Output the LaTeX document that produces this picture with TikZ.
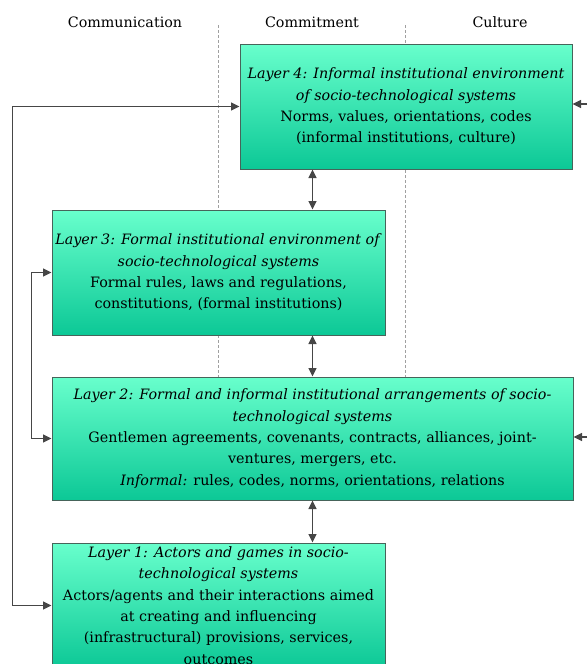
\documentclass[tikz,border=0pt]{standalone}
\usepackage{fontspec}
\setmainfont{DejaVu Serif}
\usetikzlibrary{arrows.meta,backgrounds}
\definecolor{boxtop}{RGB}{104,255,204}
\definecolor{boxbot}{RGB}{12,200,150}
\definecolor{boxline}{RGB}{70,100,90}
\definecolor{arrcol}{RGB}{70,70,70}
\definecolor{dashcol}{RGB}{160,160,160}
\tikzset{
  layerbox/.style={draw=boxline, line width=1pt, top color=boxtop, bottom color=boxbot,
    align=center, inner sep=1pt, font=\fontsize{14.3}{21.3}\selectfont, text=black},
  header/.style={font=\fontsize{14.3}{18}\selectfont, text=black},
  link/.style={draw=arrcol, line width=1.5pt, {Triangle[length=8.5pt,width=8pt]}-{Triangle[length=8.5pt,width=8pt]}},
  onelink/.style={draw=arrcol, line width=1.5pt, -{Triangle[length=8.5pt,width=8pt]}},
  divider/.style={draw=dashcol, line width=0.6pt, dash pattern=on 3pt off 2pt}
}
\begin{document}
\begin{tikzpicture}[x=1pt,y=-1pt]
\useasboundingbox (0,0) rectangle (587,664);
\node[header] (hcom) at (125,22) {Communication};
\node[header] (hcmt) at (312,22) {Commitment};
\node[header] (hcul) at (500,22) {Culture};

\node[layerbox, minimum width=332pt, minimum height=125pt] (L4) at (406,106.5)
 {\textit{Layer 4: Informal institutional environment}\\
  \textit{of socio-technological systems}\\
  Norms, values, orientations, codes\\
  (informal institutions, culture)};
\node[layerbox, minimum width=333pt, minimum height=125pt] (L3) at (218.5,272.5)
 {\textit{Layer 3: Formal institutional environment of}\\
  \textit{socio-technological systems}\\
  Formal rules, laws and regulations,\\
  constitutions, (formal institutions)};
\node[layerbox, minimum width=521pt, minimum height=123pt] (L2) at (312.5,438.5)
 {\textit{Layer 2: Formal and informal institutional arrangements of socio-}\\
  \textit{technological systems}\\
  Gentlemen agreements, covenants, contracts, alliances, joint-\\
  ventures, mergers, etc.\\
  \textit{Informal:} rules, codes, norms, orientations, relations};
\node[layerbox, minimum width=333pt, minimum height=125pt] (L1) at (218.5,605.5)
 {\textit{Layer 1: Actors and games in socio-}\\
  \textit{technological systems}\\
  Actors/agents and their interactions aimed\\
  at creating and influencing\\
  (infrastructural) provisions, services,\\
  outcomes};

\begin{scope}[on background layer]
\coordinate (d1) at (218,25);
\coordinate (d2) at (405,25);
\draw[divider] (d1) -- (d1 |- L2.north);
\draw[divider] (d2) -- (d2 |- L2.north);
\end{scope}

\draw[link] (L1.west) -- ++(-39,0) |- (L4.west);
\draw[link] (L2.west) -- ++(-20,0) |- (L3.west);

\coordinate (r4) at (587,104);
\coordinate (r2) at (587,437);
\draw[onelink] (r4) -- (r4 -| L4.east);
\draw[onelink] (r2) -- (r2 -| L2.east);

\draw[link] (L4.south -| L2.north) -- (L3.north -| L2.north);
\draw[link] (L3.south -| L2.north) -- (L2.north);
\draw[link] (L2.south) -- (L1.north -| L2.south);
\end{tikzpicture}
\end{document}
